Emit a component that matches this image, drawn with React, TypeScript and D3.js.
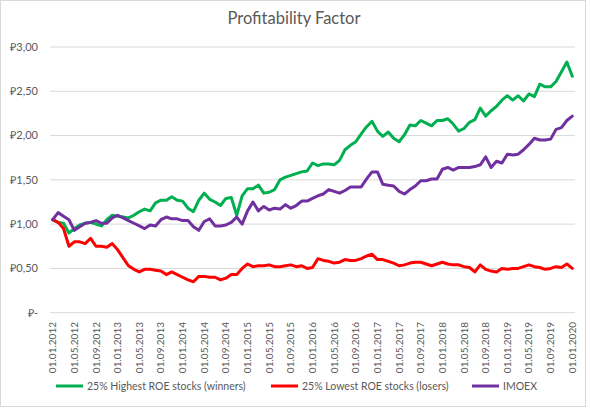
import React from "react";
import * as d3 from "d3";

const tickLabels = [
  "01.01.2012","01.05.2012","01.09.2012","01.01.2013","01.05.2013","01.09.2013",
  "01.01.2014","01.05.2014","01.09.2014","01.01.2015","01.05.2015","01.09.2015",
  "01.01.2016","01.05.2016","01.09.2016","01.01.2017","01.05.2017","01.09.2017",
  "01.01.2018","01.05.2018","01.09.2018","01.01.2019","01.05.2019","01.09.2019",
  "01.01.2020",
];

const winners = [
  1.05,1.02,1.01,0.90,0.95,0.99,1.01,1.02,1.00,0.98,1.05,1.10,1.09,1.08,1.07,1.10,
  1.14,1.17,1.15,1.24,1.27,1.27,1.31,1.27,1.26,1.18,1.14,1.27,1.35,1.28,1.25,1.21,
  1.29,1.30,1.10,1.32,1.40,1.40,1.44,1.35,1.36,1.39,1.50,1.53,1.55,1.57,1.59,1.60,
  1.69,1.66,1.68,1.68,1.67,1.72,1.84,1.89,1.93,2.02,2.10,2.16,2.05,1.99,2.04,1.97,
  1.93,2.01,2.12,2.11,2.17,2.14,2.11,2.17,2.17,2.19,2.13,2.05,2.08,2.15,2.18,2.31,
  2.22,2.28,2.33,2.40,2.45,2.40,2.45,2.39,2.47,2.44,2.58,2.55,2.55,2.61,2.72,2.83,
  2.67,
];

const losers = [
  1.05,1.02,0.95,0.75,0.80,0.80,0.78,0.84,0.75,0.75,0.74,0.78,0.71,0.62,0.53,0.49,
  0.46,0.49,0.49,0.48,0.47,0.43,0.46,0.43,0.40,0.37,0.35,0.41,0.41,0.40,0.40,0.37,
  0.39,0.43,0.43,0.50,0.55,0.52,0.53,0.53,0.54,0.52,0.52,0.53,0.54,0.52,0.53,0.50,
  0.51,0.61,0.59,0.58,0.56,0.57,0.60,0.59,0.59,0.61,0.64,0.66,0.60,0.60,0.58,0.56,
  0.53,0.54,0.56,0.57,0.57,0.55,0.53,0.55,0.57,0.55,0.54,0.54,0.52,0.51,0.46,0.54,
  0.49,0.47,0.46,0.50,0.49,0.50,0.50,0.52,0.54,0.52,0.51,0.49,0.50,0.52,0.51,0.55,
  0.50,
];

const imoex = [
  1.05,1.13,1.09,1.05,0.93,0.97,1.01,1.02,1.04,1.01,1.01,1.07,1.10,1.07,1.04,1.01,
  0.98,0.95,0.99,0.98,1.05,1.08,1.06,1.06,1.04,1.04,0.97,0.93,1.03,1.06,0.98,0.98,
  0.99,1.02,1.08,1.00,1.15,1.25,1.15,1.20,1.16,1.18,1.17,1.22,1.18,1.21,1.26,1.26,
  1.29,1.32,1.34,1.39,1.37,1.35,1.38,1.42,1.42,1.42,1.51,1.59,1.59,1.45,1.44,1.43,
  1.37,1.34,1.39,1.43,1.49,1.49,1.51,1.51,1.62,1.64,1.61,1.64,1.64,1.64,1.65,1.67,
  1.76,1.64,1.71,1.69,1.79,1.78,1.79,1.84,1.90,1.97,1.95,1.95,1.96,2.07,2.09,2.17,
  2.22,
];

const yTicks = [0, 0.5, 1, 1.5, 2, 2.5, 3];
const yTickLabels = ["₽-", "₽0,50", "₽1,00", "₽1,50", "₽2,00", "₽2,50", "₽3,00"];

const seriesNames = [
  "25% Highest ROE stocks (winners)",
  "25% Lowest ROE stocks (losers)",
  "IMOEX",
];
const seriesColors = ["#00B050", "#FF0000", "#7030A0"];
const seriesData = [winners, losers, imoex];

const W = 590;
const H = 409;
const FONT = "Lato, 'Open Sans', sans-serif";
const TEXT = "#595959";

export default function App() {
  const idx = d3.range(winners.length);
  const x = d3.scalePoint<number>().domain(idx).range([50, 575]).padding(0.5);
  const y = d3.scaleLinear().domain([0, 3]).range([312.7, 47]);
  const line = (vals: number[]) =>
    d3.line<number>().x((_, i) => x(i) as number).y((v) => y(v))(vals) || "";

  const legendX = [56, 271, 472];

  return (
    <div style={{ position: "absolute", left: 0, top: 0 }}>
      <svg width={W} height={H} style={{ display: "block", background: "#fff" }}>
        <rect x={0.5} y={0.5} width={585} height={406} fill="#fff" stroke="#D9D9D9" />
        <text x={294} y={24} textAnchor="middle" fontFamily={FONT} fontSize={16.5} fill={TEXT}>
          Profitability Factor
        </text>
        {yTicks.map((t, i) => (
          <g key={t}>
            <line x1={50} x2={575} y1={y(t)} y2={y(t)} stroke="#D9D9D9" strokeWidth={1} />
            <text x={38} y={y(t)} dy="0.35em" textAnchor="end" fontFamily={FONT} fontSize={11} fill={TEXT}>
              {yTickLabels[i]}
            </text>
          </g>
        ))}
        {tickLabels.map((lab, k) => {
          const xi = x(k * 4) as number;
          return (
            <text key={lab} transform={`translate(${xi},322) rotate(-90)`} dy="0.35em" textAnchor="end"
              fontFamily={FONT} fontSize={10} fill={TEXT}>
              {lab}
            </text>
          );
        })}
        {seriesData.map((vals, s) => (
          <path key={s} d={line(vals)} fill="none" stroke={seriesColors[s]} strokeWidth={3}
            strokeLinejoin="round" strokeLinecap="round" />
        ))}
        {seriesNames.map((name, s) => (
          <g key={name}>
            <line x1={legendX[s]} x2={legendX[s] + 27} y1={386} y2={386} stroke={seriesColors[s]} strokeWidth={3} />
            <text x={legendX[s] + 31} y={386} dy="0.35em" fontFamily={FONT} fontSize={10.5} fill={TEXT}>
              {name}
            </text>
          </g>
        ))}
      </svg>
    </div>
  );
}
